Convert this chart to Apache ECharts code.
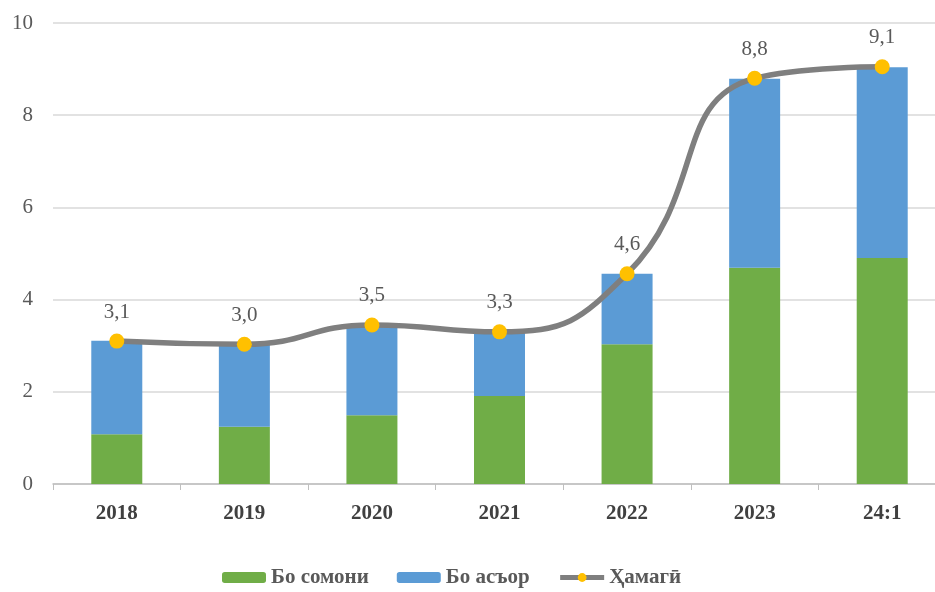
<!DOCTYPE html>
<html>
<head>
<meta charset="utf-8">
<script src="https://cdn.jsdelivr.net/npm/echarts@6/dist/echarts.min.js"></script>
<style>
  html, body { margin: 0; padding: 0; background: #fff; }
  #chart { width: 935px; height: 592px; }
</style>
</head>
<body>
<div id="chart"></div>
<script>
var categories = ['2018', '2019', '2020', '2021', '2022', '2023', '24:1']
var somoni = [1.08, 1.24, 1.49, 1.91, 3.03, 4.69, 4.90]
var asor = [2.03, 1.81, 1.94, 1.39, 1.53, 4.10, 4.14]
var total = [3.1, 3.03, 3.45, 3.3, 4.56, 8.8, 9.05]
var yTicks = { min: 0, max: 10, interval: 2 }

var serif = '"Liberation Serif", "DejaVu Serif", serif'
var chart = echarts.init(document.getElementById('chart'))

var option = {
  animation: false,
  grid: {
    left: 53,
    right: -11,
    top: 23,
    bottom: 108,
    outerBoundsMode: 'none'
  },
  legend: {
    top: 562,
    left: 217,
    itemWidth: 44,
    itemHeight: 11,
    itemGap: 28,
    textStyle: { fontFamily: serif, fontSize: 21, fontWeight: 'bold', color: '#595959' },
    data: [
      { name: 'Бо сомони' },
      { name: 'Бо асъор' },
      { name: 'Ҳамагӣ', lineStyle: { width: 5, color: '#7f7f7f' } }
    ]
  },
  xAxis: {
    type: 'category',
    data: categories,
    axisLine: { lineStyle: { color: '#bfbfbf', width: 1.5 } },
    axisTick: { show: true, length: 6, lineStyle: { color: '#bfbfbf' } },
    axisLabel: {
      margin: 19,
      fontFamily: serif,
      fontSize: 21,
      fontWeight: 'bold',
      color: '#404040'
    }
  },
  yAxis: {
    type: 'value',
    min: yTicks.min,
    max: yTicks.max,
    interval: yTicks.interval,
    axisLine: { show: false },
    axisTick: { show: false },
    splitLine: { lineStyle: { color: '#d9d9d9', width: 1.5 } },
    axisLabel: {
      margin: 20,
      fontFamily: serif,
      fontSize: 21,
      color: '#595959'
    }
  },
  series: [
    {
      name: 'Бо сомони',
      type: 'bar',
      stack: 'total',
      barWidth: 51,
      itemStyle: { color: '#70ad47' },
      data: somoni
    },
    {
      name: 'Бо асъор',
      type: 'bar',
      stack: 'total',
      barWidth: 51,
      itemStyle: { color: '#5b9bd5' },
      data: asor
    },
    {
      name: 'Ҳамагӣ',
      type: 'line',
      smooth: 0.5,
      symbol: 'circle',
      symbolSize: 15,
      lineStyle: { color: '#7f7f7f', width: 5.5 },
      itemStyle: { color: '#ffc000' },
      label: {
        show: true,
        position: 'top',
        distance: 11,
        fontFamily: serif,
        fontSize: 21,
        color: '#595959',
        formatter: function (p) {
          return (Math.round(p.value * 10) / 10).toFixed(1).replace('.', ',')
        }
      },
      data: total
    }
  ]
}
chart.setOption(option)
</script>
</body>
</html>
